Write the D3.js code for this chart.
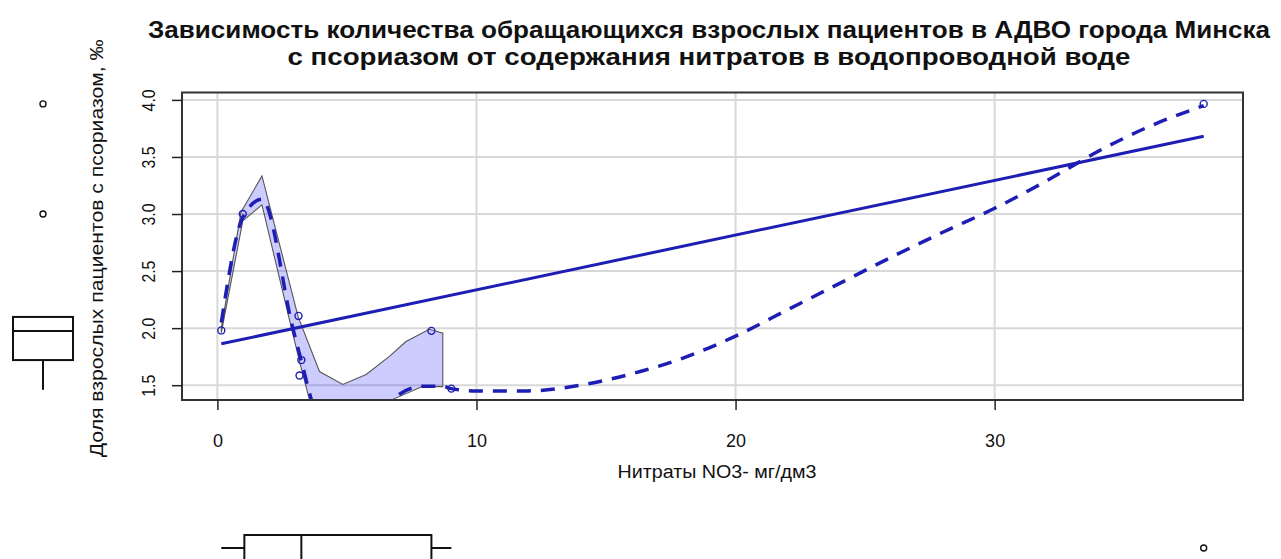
<!DOCTYPE html>
<html>
<head>
<meta charset="utf-8">
<script src="https://cdn.jsdelivr.net/npm/d3@7"></script>
<style>
  body { margin: 0; background: #fff; }
  svg { display: block; }
  text { font-family: "Liberation Sans", Arial, Helvetica, sans-serif; fill: #111; }
</style>
</head>
<body>
<svg id="chart" width="1281" height="559"></svg>
<script>
// Observations: nitrate (NO3-, mg/dm3) vs. share of adult psoriasis patients (‰)
const nitrate   = [0.15, 0.98, 3.13, 3.17, 3.24, 8.26, 9.03, 38.07];
const psoriasis = [1.98, 3.00, 2.107, 1.585, 1.72, 1.976, 1.47, 3.965];

// Linear fit, evaluated at both ends of the nitrate range
const fitX = [0.15, 38.07];
const fitY = [1.863, 3.682];

// Loess smoother (dashed)
const smoothX = [0.15, 0.98, 1.72, 2.91, 3.23, 3.62, 4.2, 5.2, 6.1, 6.77, 7.93, 8.7, 9.03, 10.0, 12.0, 14.0, 16.0, 18.0, 20.0, 22.0, 24.0, 26.0, 28.0, 30.0, 32.0, 34.0, 36.0, 38.07];
const smoothY = [2.05, 2.97, 3.13, 2.00, 1.72, 1.376, 0.95, 0.85, 1.10, 1.376, 1.49, 1.49, 1.47, 1.45, 1.45, 1.50, 1.60, 1.74, 1.93, 2.16, 2.39, 2.62, 2.84, 3.05, 3.29, 3.55, 3.77, 3.95];

// Spread band around the smoother (upper edge, then lower edge)
const bandUpperX = [0.15, 0.91, 1.72, 3.12, 3.94, 4.84, 5.74, 6.64, 7.28, 8.18, 8.70, 8.70];
const bandUpperY = [2.00, 3.015, 3.334, 2.096, 1.62, 1.506, 1.594, 1.753, 1.883, 1.99, 1.956, 1.487];
const bandLowerX = [7.93, 6.77, 6.0, 5.0, 4.0, 3.55, 3.20, 2.90, 1.72, 0.98, 0.15];
const bandLowerY = [1.49, 1.376, 1.05, 0.80, 0.95, 1.376, 1.68, 1.96, 3.08, 2.94, 1.96];

// Marginal boxplots: [lower whisker, Q1, median, Q3, upper whisker] and outliers
const xBoxStats = [0.15, 1.04, 3.24, 8.26, 9.03];
const xOutliers = [38.07];
const yBoxStats = [1.46, 1.72, 1.975, 2.098, 2.098];
const yOutliers = [3.00, 3.965];

const xTicks = [0, 10, 20, 30];
const yTicks = [1.5, 2.0, 2.5, 3.0, 3.5, 4.0];
const yTickLabels = ["1.5", "2.0", "2.5", "3.0", "3.5", "4.0"];

const titleLines = [
  "Зависимость количества обращающихся взрослых пациентов в АДВО города Минска",
  "с псориазом от содержания нитратов в водопроводной воде"
];
const xTitle = "Нитраты NO3- мг/дм3";
const yTitle = "Доля взрослых пациентов с псориазом, ‰";

// ---- layout ----
const plot = { left: 182, right: 1243, top: 92.5, bottom: 400 };
const ink = "#1e1eb4";
const boxInk = "#111";

const svg = d3.select("#chart");
svg.append("rect").attr("width", 1281).attr("height", 559).attr("fill", "#fff");

// R-style ranges: data extent padded by 4% on each side
function padded(v) {
  const [a, b] = d3.extent(v);
  const p = (b - a) * 0.04;
  return [a - p, b + p];
}
const x = d3.scaleLinear().domain(padded(nitrate)).range([plot.left, plot.right]);
const y = d3.scaleLinear().domain(padded(psoriasis)).range([plot.bottom, plot.top]);

svg.append("clipPath").attr("id", "plotClip")
  .append("rect")
  .attr("x", plot.left).attr("y", plot.top)
  .attr("width", plot.right - plot.left).attr("height", plot.bottom - plot.top);

// grid
const grid = svg.append("g").attr("stroke", "#d8d8d8").attr("stroke-width", 2);
grid.selectAll("line.v").data(xTicks).join("line").attr("class", "v")
  .attr("x1", d => x(d)).attr("x2", d => x(d))
  .attr("y1", plot.top).attr("y2", plot.bottom);
grid.selectAll("line.h").data(yTicks).join("line").attr("class", "h")
  .attr("x1", plot.left).attr("x2", plot.right)
  .attr("y1", d => y(d)).attr("y2", d => y(d));

const inner = svg.append("g").attr("clip-path", "url(#plotClip)");

// spread band
const bandPts = bandUpperX.map((v, i) => [v, bandUpperY[i]])
  .concat(bandLowerX.map((v, i) => [v, bandLowerY[i]]));
inner.append("path")
  .attr("d", d3.line().x(d => x(d[0])).y(d => y(d[1]))(bandPts) + "Z")
  .attr("fill", "blue").attr("fill-opacity", 0.2)
  .attr("stroke", "#555").attr("stroke-width", 1.1);

// linear fit
inner.append("path")
  .attr("d", d3.line().x(d => x(d[0])).y(d => y(d[1]))(fitX.map((v, i) => [v, fitY[i]])))
  .attr("fill", "none").attr("stroke", ink).attr("stroke-width", 3);

// smoother
inner.append("path")
  .attr("d", d3.line().curve(d3.curveMonotoneX).x(d => x(d[0])).y(d => y(d[1]))(smoothX.map((v, i) => [v, smoothY[i]])))
  .attr("fill", "none").attr("stroke", ink).attr("stroke-width", 3.5)
  .attr("stroke-dasharray", "14,10");

// points
svg.append("g").selectAll("circle").data(nitrate.map((v, i) => [v, psoriasis[i]])).join("circle")
  .attr("cx", d => x(d[0])).attr("cy", d => y(d[1])).attr("r", 3.5)
  .attr("fill", "none").attr("stroke", ink).attr("stroke-width", 1.4);

// frame
svg.append("rect")
  .attr("x", plot.left).attr("y", plot.top)
  .attr("width", plot.right - plot.left).attr("height", plot.bottom - plot.top)
  .attr("fill", "none").attr("stroke", "#333").attr("stroke-width", 2);

// x axis
const xAxis = d3.axisBottom(x).tickValues(xTicks).tickSize(10).tickFormat(d3.format("d"));
const gx = svg.append("g").attr("transform", `translate(0,${plot.bottom})`).call(xAxis);
gx.select(".domain").remove();
gx.selectAll(".tick line").attr("stroke", "#222").attr("stroke-width", 1.5);
gx.selectAll(".tick text").attr("font-size", 18).attr("fill", "#111").attr("dy", 0).attr("y", 47);

// y axis (labels parallel to the axis)
const yAxis = d3.axisLeft(y).tickValues(yTicks).tickSize(10).tickFormat((d, i) => yTickLabels[i]);
const gy = svg.append("g").attr("transform", `translate(${plot.left},0)`).call(yAxis);
gy.select(".domain").remove();
gy.selectAll(".tick line").attr("stroke", "#222").attr("stroke-width", 1.5);
gy.selectAll(".tick text")
  .attr("font-size", 19).attr("fill", "#111")
  .attr("x", null).attr("dy", null)
  .attr("text-anchor", "middle")
  .attr("textLength", 22).attr("lengthAdjust", "spacingAndGlyphs")
  .attr("transform", "translate(-27,0) rotate(-90)");

// titles
const title = svg.append("g").attr("font-weight", "bold");
title.append("text").attr("x", 709).attr("y", 38).attr("text-anchor", "middle")
  .attr("font-size", 23).attr("font-weight", "bold")
  .attr("textLength", 1122).attr("lengthAdjust", "spacingAndGlyphs").text(titleLines[0]);
title.append("text").attr("x", 709).attr("y", 65).attr("text-anchor", "middle")
  .attr("font-size", 23).attr("font-weight", "bold")
  .attr("textLength", 843).attr("lengthAdjust", "spacingAndGlyphs").text(titleLines[1]);

svg.append("text").attr("x", 717).attr("y", 478).attr("text-anchor", "middle")
  .attr("font-size", 18).attr("textLength", 199).attr("lengthAdjust", "spacingAndGlyphs")
  .text(xTitle);

svg.append("text").attr("transform", `translate(103,${(plot.top + plot.bottom) / 2 + 2}) rotate(-90)`)
  .attr("text-anchor", "middle").attr("font-size", 19)
  .attr("textLength", 418).attr("lengthAdjust", "spacingAndGlyphs")
  .text(yTitle);

// marginal boxplot for the y variable (left)
const yb = svg.append("g").attr("stroke", boxInk).attr("stroke-width", 2).attr("fill", "none");
const ybCx = 43, ybHalf = 30;
yb.append("rect").attr("x", ybCx - ybHalf).attr("width", 2 * ybHalf)
  .attr("y", y(yBoxStats[3])).attr("height", y(yBoxStats[1]) - y(yBoxStats[3]));
yb.append("line").attr("x1", ybCx - ybHalf).attr("x2", ybCx + ybHalf)
  .attr("y1", y(yBoxStats[2])).attr("y2", y(yBoxStats[2]));
yb.append("line").attr("x1", ybCx).attr("x2", ybCx)
  .attr("y1", y(yBoxStats[1])).attr("y2", y(yBoxStats[0]));
yb.append("line").attr("x1", ybCx).attr("x2", ybCx)
  .attr("y1", y(yBoxStats[3])).attr("y2", y(yBoxStats[4]));
yb.selectAll("circle").data(yOutliers).join("circle")
  .attr("cx", ybCx).attr("cy", d => y(d)).attr("r", 3).attr("stroke-width", 1.4);

// marginal boxplot for the x variable (bottom)
const xb = svg.append("g").attr("stroke", boxInk).attr("stroke-width", 2).attr("fill", "none");
const xbCy = 548, xbHalf = 13;
xb.append("rect").attr("y", xbCy - xbHalf).attr("height", 2 * xbHalf)
  .attr("x", x(xBoxStats[1])).attr("width", x(xBoxStats[3]) - x(xBoxStats[1]));
xb.append("line").attr("y1", xbCy - xbHalf).attr("y2", xbCy + xbHalf)
  .attr("x1", x(xBoxStats[2])).attr("x2", x(xBoxStats[2]));
xb.append("line").attr("y1", xbCy).attr("y2", xbCy)
  .attr("x1", x(xBoxStats[0])).attr("x2", x(xBoxStats[1]));
xb.append("line").attr("y1", xbCy).attr("y2", xbCy)
  .attr("x1", x(xBoxStats[3])).attr("x2", x(xBoxStats[4]));
xb.selectAll("circle").data(xOutliers).join("circle")
  .attr("cx", d => x(d)).attr("cy", xbCy).attr("r", 3).attr("stroke-width", 1.4);
</script>
</body>
</html>
